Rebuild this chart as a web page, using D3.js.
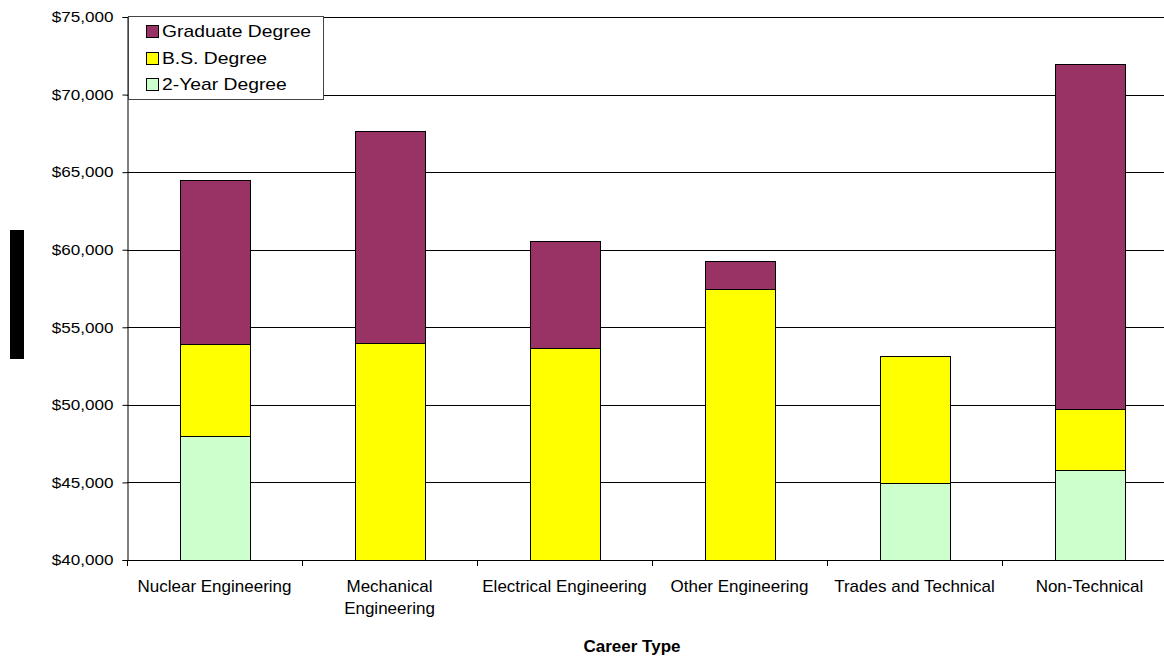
<!DOCTYPE html>
<html>
<head>
<meta charset="utf-8">
<script src="https://cdn.jsdelivr.net/npm/d3@7"></script>
<style>
  body { margin: 0; background: #fff; }
  svg { display: block; font-family: "Liberation Sans", Arial, sans-serif; }
</style>
</head>
<body>
<svg id="chart" width="1164" height="660"></svg>
<script>
// Average starting salary level reached with each degree, by career type
const categories = [
  ["Nuclear Engineering"],
  ["Mechanical", "Engineering"],
  ["Electrical Engineering"],
  ["Other Engineering"],
  ["Trades and Technical"],
  ["Non-Technical"]
];
const twoYear   = [48000, null, null, null, 44950, 45800];
const bsDegree  = [53900, 54000, 53650, 57480, 53150, 49720];
const gradDegree = [64500, 67650, 60570, 59300, null, 72000];

const yTicks = [40000, 45000, 50000, 55000, 60000, 65000, 70000, 75000];
const seriesNames = ["2-Year Degree", "B.S. Degree", "Graduate Degree"];
const seriesColors = ["#CCFFCC", "#FFFF00", "#993366"];

const svg = d3.select("#chart");
const plotLeft = 127, plotTop = 17, plotBottom = 560, plotRight = 1177;
const barW = 70;

// Widen text horizontally (the chart's fonts are set slightly wide)
function widen(sel, k) {
  sel.each(function () {
    const w = this.getComputedTextLength();
    d3.select(this).attr("textLength", w * k).attr("lengthAdjust", "spacingAndGlyphs");
  });
}

const x = d3.scaleBand()
  .domain(d3.range(categories.length))
  .range([plotLeft, plotRight])
  .padding(0);
const y = d3.scaleLinear().domain([40000, 75000]).range([plotBottom, plotTop]);

// Gridlines
svg.append("g")
  .selectAll("line")
  .data(yTicks.slice(1))
  .join("line")
  .attr("x1", plotLeft).attr("x2", plotRight)
  .attr("y1", d => Math.round(y(d)) + 0.5)
  .attr("y2", d => Math.round(y(d)) + 0.5)
  .attr("stroke", "#000").attr("stroke-width", 1);

// Stacked segments: each degree level rises from the previous one
const rows = categories.map((c, i) => [twoYear[i], bsDegree[i], gradDegree[i]]);
const segs = [];
rows.forEach((vals, i) => {
  let base = 40000;
  vals.forEach((v, s) => {
    if (v == null) return;
    segs.push({ i, s, y0: base, y1: v });
    base = v;
  });
});
svg.append("g")
  .selectAll("rect")
  .data(segs)
  .join("rect")
  .attr("x", d => Math.round(x(d.i) + x.bandwidth() / 2 - barW / 2) + 0.5)
  .attr("width", barW)
  .attr("y", d => Math.round(y(d.y1)) + 0.5)
  .attr("height", d => Math.round(y(d.y0)) - Math.round(y(d.y1)))
  .attr("fill", d => seriesColors[d.s])
  .attr("stroke", "#000").attr("stroke-width", 1);

// Y axis
const yAxis = svg.append("g")
  .attr("transform", `translate(${plotLeft + 0.5},0)`)
  .call(d3.axisLeft(y).tickValues(yTicks).tickSize(5).tickPadding(9)
    .tickFormat(d => "$" + d3.format(",")(d)));
yAxis.select(".domain").attr("stroke", "#000");
yAxis.selectAll("line").attr("stroke", "#000");
yAxis.selectAll("text").attr("font-size", 15).attr("fill", "#000")
  .attr("font-family", "Liberation Sans, Arial, sans-serif");
widen(yAxis.selectAll("text"), 1.14);

// X axis with ticks on category boundaries
svg.append("line")
  .attr("x1", plotLeft).attr("x2", plotRight)
  .attr("y1", plotBottom + 0.5).attr("y2", plotBottom + 0.5)
  .attr("stroke", "#000");
svg.append("g")
  .selectAll("line")
  .data(d3.range(categories.length + 1))
  .join("line")
  .attr("x1", d => Math.round(plotLeft + x.step() * d) + 0.5)
  .attr("x2", d => Math.round(plotLeft + x.step() * d) + 0.5)
  .attr("y1", plotBottom).attr("y2", plotBottom + 6)
  .attr("stroke", "#000");

const xl = svg.append("g")
  .selectAll("text")
  .data(categories)
  .join("text")
  .attr("x", (d, i) => x(i) + x.bandwidth() / 2)
  .attr("y", 592)
  .attr("text-anchor", "middle")
  .attr("font-size", 17)
  .attr("fill", "#000");
xl.selectAll("tspan")
  .data(d => d)
  .join("tspan")
  .attr("x", function () { return this.parentNode.getAttribute("x"); })
  .attr("dy", (d, j) => j === 0 ? 0 : 22)
  .text(d => d);

// Axis title
svg.append("text")
  .attr("x", 632).attr("y", 652)
  .attr("text-anchor", "middle")
  .attr("font-size", 17).attr("font-weight", "bold")
  .text("Career Type");

// Vertical axis title block
svg.append("rect")
  .attr("x", 10).attr("y", 230).attr("width", 14).attr("height", 129)
  .attr("fill", "#000");

// Legend
const lg = svg.append("g");
lg.append("rect")
  .attr("x", 128.5).attr("y", 16.5).attr("width", 195).attr("height", 83)
  .attr("fill", "#fff").attr("stroke", "#444");
const order = [2, 1, 0];
order.forEach((s, k) => {
  const cy = 31 + k * 26.5;
  lg.append("rect")
    .attr("x", 146.5).attr("y", Math.round(cy - 6) + 0.5)
    .attr("width", 12).attr("height", 12)
    .attr("fill", seriesColors[s]).attr("stroke", "#000");
  const t = lg.append("text")
    .attr("x", 162).attr("y", cy + 6)
    .attr("font-size", 17).attr("fill", "#000")
    .text(seriesNames[s]);
  widen(t, 1.135);
});
</script>
</body>
</html>
